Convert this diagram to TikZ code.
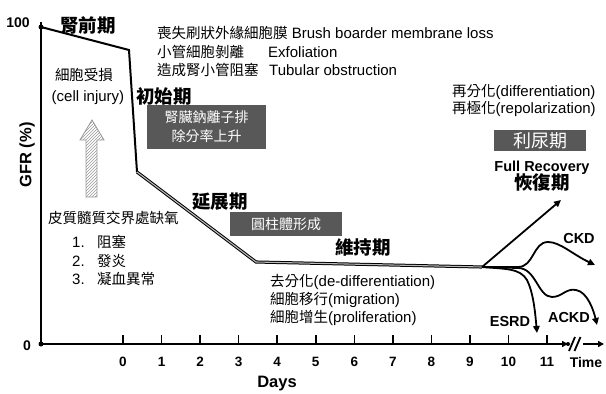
\documentclass[tikz,border=0pt]{standalone}
\usepackage{fontspec}
\setmainfont{Liberation Sans}
\newfontfamily\cjk{Noto Sans CJK TC}
\newcommand\zhtext[1]{{\cjk #1}}
\usetikzlibrary{arrows.meta,patterns}
\definecolor{boxgray}{RGB}{88,88,88}
\begin{document}
\begin{tikzpicture}[x=1pt,y=-1pt,
  ax/.style={line width=2.2pt},
  tick/.style={line width=1.5pt},
  num/.style={font=\fontsize{13.5}{15}\selectfont\bfseries, inner sep=0},
  title/.style={font=\cjk\fontsize{18.5}{20}\selectfont\bfseries, inner sep=0},
  txt/.style={font=\fontsize{15}{17}\selectfont, inner sep=0},
  zh/.style={font=\cjk\fontsize{14.5}{17}\selectfont, inner sep=0},
  gbox/.style={fill=boxgray, text=white, font=\cjk\fontsize{14}{19}\selectfont, inner sep=0, align=center},
  dz/.style={font=\fontsize{14.5}{16}\selectfont\bfseries, inner sep=0},
  dbl/.style={line width=1pt, double=gray!55, double distance=1.1pt, line join=miter},
  br/.style={line width=1.8pt, -{Triangle[length=7pt,width=6.5pt]}},
]
\useasboundingbox (0,0) rectangle (606,394);
% axes
\coordinate (Top) at (41,22);
\coordinate (O) at (41,344);
\coordinate (xend) at (568,344);
\draw[ax] (Top) -- (O) -- (xend);
\draw[ax,-{Triangle[length=6pt,width=6pt]}] (558,344) -- (xend);
\fill (41,27) circle (2.5pt);
\fill (O) circle (2.5pt);
\fill (568,344) circle (2pt);
\draw[line width=1.8pt] (569,351) -- (575,337) (574.5,351) -- (580.5,337);
\coordinate (t0) at (583,344);
\coordinate (t1) at (604,344);
\draw[line width=1.8pt,-{Triangle[length=6pt,width=6pt]}] (t0) -- (t1);
\foreach \i in {0,...,11} {
  \draw[tick] (123+38.55*\i,344) -- ++(0,-9);
  \node[num] (tl\i) at (123+38.55*\i,362) {\i};
}
\node[font=\fontsize{14}{16}\selectfont\bfseries, inner sep=0] (time) at (586,362) {Time};
\node[font=\fontsize{16.5}{18}\selectfont\bfseries, inner sep=0] (days) at (277,384) {Days};
\node[font=\fontsize{16.5}{18}\selectfont\bfseries, inner sep=0, rotate=90] (gfr) at (27,155) {GFR (\%)};
\node[font=\fontsize{14}{16}\selectfont\bfseries, inner sep=0] (y100) at (18,23) {100};
\node[font=\fontsize{14}{16}\selectfont\bfseries, inner sep=0] (y0) at (27,346) {0};
% GFR curve
\coordinate (p0) at (41,27);
\coordinate (p1) at (129,50);
\coordinate (p2) at (137,172);
\coordinate (p3) at (256,262);
\coordinate (p4) at (482,267);
\draw[line width=2pt, line join=miter] (p0) -- (p1) -- (p2);
\draw[dbl] (p2) -- (p3) -- (p4);
% branches
\coordinate (rec) at (561,200);
\coordinate (ckd) at (595,265);
\coordinate (ackd) at (597,325);
\coordinate (esrd) at (537,333);
\draw[br] (p4) -- (rec);
\draw[br] (p4) -- (518,267) .. controls (534,267) and (533,242) .. (548,242) .. controls (560,242) and (572,254) .. (ckd);
\draw[br] (p4) -- (518,268) .. controls (536,268) and (538,297) .. (552,297) .. controls (562,297) and (566,288) .. (576,290) .. controls (588,292) and (594,312) .. (ackd);
\draw[br] (p4) .. controls (505,269) and (520,268) .. (527,280) .. controls (533,292) and (535,310) .. (esrd);
\node[dz] (lckd) at (579,239) {CKD};
\node[dz] (lesrd) at (510,322) {ESRD};
\node[dz] (lackd) at (569,318) {ACKD};
% phase titles
\node[title] (pre) at (88,25) {腎前期};
\node[title] (init) at (164,96) {初始期};
\node[title] (ext) at (220,202) {延展期};
\node[title] (mnt) at (363,248) {維持期};
% top notes
\node[anchor=west, txt] (l1) at (157,33) {\zhtext{\fontsize{14.5}{17}\selectfont 喪失刷狀外緣細胞膜} Brush boarder membrane loss};
\node[anchor=west, zh] (l2a) at (157,52) {小管細胞剝離};
\node[anchor=west, txt] (l2b) at (268,52) {Exfoliation};
\node[anchor=west, zh] (l3a) at (157,70) {造成腎小管阻塞};
\node[anchor=west, txt] (l3b) at (269,70) {Tubular obstruction};
% cell injury
\node[zh] (ci1) at (84,75) {細胞受損};
\node[txt] (ci2) at (88,98) {(cell injury)};
\draw[gray!80, line width=0.8pt, pattern=north east lines, pattern color=gray!80]
  (86,197) -- (97,197) -- (97,140) -- (104,140) -- (92,120) -- (80,140) -- (86,140) -- cycle;
% hypoxia list
\node[anchor=west, zh] (hx) at (48,218) {皮質髓質交界處缺氧};
\node[anchor=west, txt] (n1) at (72,242) {1.};
\node[anchor=west, zh] (n1t) at (97,242) {阻塞};
\node[anchor=west, txt] (n2) at (72,261) {2.};
\node[anchor=west, zh] (n2t) at (97,261) {發炎};
\node[anchor=west, txt] (n3) at (72,279) {3.};
\node[anchor=west, zh] (n3t) at (97,279) {凝血異常};
% grey boxes
\node[gbox, minimum width=119pt, minimum height=44pt] (b1) at (206.5,127) {腎臟鈉離子排\\除分率上升};
\node[gbox, minimum width=112pt, minimum height=24pt] (b2) at (286,224) {圓柱體形成};
\node[gbox, minimum width=92pt, minimum height=21pt, font=\cjk\fontsize{18}{20}\selectfont] (b3) at (540,140.5) {利尿期};
% recovery
\node[anchor=west, txt] (r1) at (452,92) {\zhtext{\fontsize{14.5}{17}\selectfont 再分化}(differentiation)};
\node[anchor=west, txt] (r2) at (452,109) {\zhtext{\fontsize{14.5}{17}\selectfont 再極化}(repolarization)};
\node[font=\fontsize{14.5}{16}\selectfont\bfseries, inner sep=0] (full) at (542,168) {Full Recovery};
\node[title] (rcv) at (542,183) {恢復期};
% maintenance notes
\node[anchor=west, txt] (m1) at (270,282) {\zhtext{\fontsize{14.5}{17}\selectfont 去分化}(de-differentiation)};
\node[anchor=west, txt] (m2) at (270,300) {\zhtext{\fontsize{14.5}{17}\selectfont 細胞移行}(migration)};
\node[anchor=west, txt] (m3) at (270,318) {\zhtext{\fontsize{14.5}{17}\selectfont 細胞增生}(proliferation)};
\end{tikzpicture}
\end{document}
